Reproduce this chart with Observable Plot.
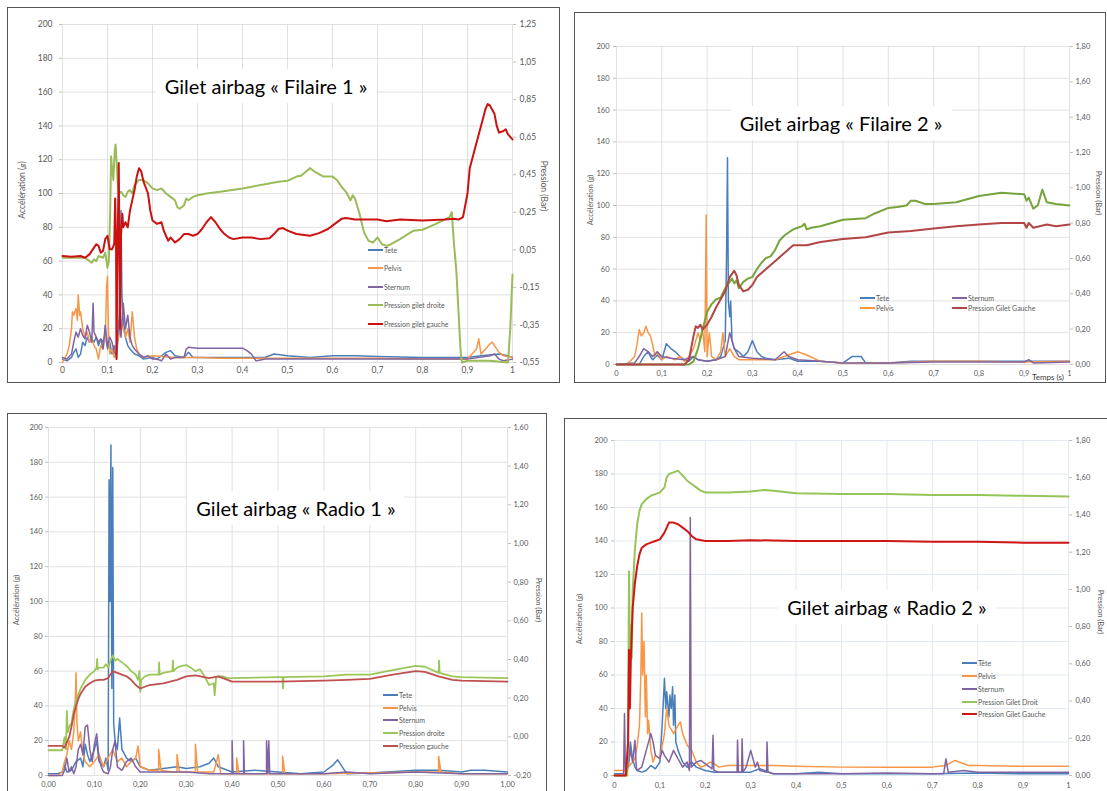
<!DOCTYPE html>
<html><head><meta charset="utf-8">
<script src="https://cdn.jsdelivr.net/npm/d3@7"></script>
<script src="https://cdn.jsdelivr.net/npm/@observablehq/plot@0.6"></script>
<style>
html,body{margin:0;padding:0;background:#fff;}
body{width:1107px;height:791px;overflow:hidden;position:relative;font-family:Lato,"Open Sans",sans-serif;}
.frame{position:absolute;border:1.5px solid #555;box-sizing:border-box;pointer-events:none;}
.title{position:absolute;background:#fff;padding:5px 9px;font-size:20px;color:#000;white-space:nowrap;transform:translate(-50%,-50%);}
.axt{position:absolute;font-size:7.5px;color:#595959;white-space:nowrap;}
.leg{position:absolute;display:flex;align-items:center;font-size:7px;color:#595959;white-space:nowrap;transform:translateY(-50%);}
.leg span.l{display:inline-block;width:15px;height:2px;margin-right:1px;}
</style></head><body>
<script>
// ---------- shared tick values / labels ----------
const xTicks = [0,0.1,0.2,0.3,0.4,0.5,0.6,0.7,0.8,0.9,1];
const xLabelsShort = ["0","0,1","0,2","0,3","0,4","0,5","0,6","0,7","0,8","0,9","1"];
const xLabelsLong = ["0,00","0,10","0,20","0,30","0,40","0,50","0,60","0,70","0,80","0,90","1,00"];
const yTicks = [0,20,40,60,80,100,120,140,160,180,200];
const pTicksF1 = [-0.55,-0.35,-0.15,0.05,0.25,0.45,0.65,0.85,1.05,1.25];
const pLabelsF1 = ["-0,55","-0,35","-0,15","0,05","0,25","0,45","0,65","0,85","1,05","1,25"];
const pTicks018 = [0,0.2,0.4,0.6,0.8,1.0,1.2,1.4,1.6,1.8];
const pLabels018 = ["0,00","0,20","0,40","0,60","0,80","1,00","1,20","1,40","1,60","1,80"];
const pTicksR1 = [-0.2,0,0.2,0.4,0.6,0.8,1.0,1.2,1.4,1.6];
const pLabelsR1 = ["-0,20","0,00","0,20","0,40","0,60","0,80","1,00","1,20","1,40","1,60"];

// ---------- Gilet airbag « Filaire 1 » : [temps (s), accélération (g)] / [temps, pression (Bar)] ----------
const f1Tete = [[0,2],[0.01,1],[0.02,3],[0.025,6],[0.03,8],[0.035,3],[0.04,5],[0.045,12],[0.05,10],[0.055,15],[0.06,12],[0.065,14],[0.07,12],[0.075,15],[0.08,10],[0.085,14],[0.09,12],[0.095,17],[0.1,8],[0.105,12],[0.11,5],[0.115,10],[0.12,3],[0.125,20],[0.128,50],[0.13,90],[0.132,40],[0.135,25],[0.14,15],[0.145,10],[0.15,8],[0.16,5],[0.17,4],[0.18,2],[0.2,3],[0.21,2],[0.22,4],[0.23,6],[0.24,7],[0.25,4],[0.27,3],[0.28,6],[0.29,3],[0.35,3],[0.4,3],[0.45,3],[0.47,5],[0.5,4],[0.55,3],[0.6,4],[0.65,4],[0.7,3.5],[0.8,3],[0.9,3],[0.93,4],[0.97,5],[0.99,4],[1,3]];
const f1Pelvis = [[0,0],[0.01,5],[0.015,10],[0.02,20],[0.022,30],[0.025,28],[0.03,32],[0.033,25],[0.035,40],[0.038,28],[0.04,30],[0.045,20],[0.05,15],[0.055,18],[0.06,12],[0.065,15],[0.07,10],[0.075,8],[0.08,2],[0.085,10],[0.09,8],[0.095,15],[0.098,45],[0.1,51],[0.102,20],[0.105,5],[0.11,8],[0.115,3],[0.12,10],[0.125,15],[0.13,25],[0.135,20],[0.14,15],[0.145,20],[0.15,12],[0.155,30],[0.16,15],[0.165,8],[0.17,5],[0.18,3],[0.2,4],[0.25,3],[0.3,3],[0.35,2.5],[0.4,2.5],[0.5,2.5],[0.6,2.5],[0.7,2.5],[0.8,2],[0.9,2],[0.91,5],[0.92,8],[0.925,14],[0.93,5],[0.94,8],[0.95,11],[0.955,12],[0.96,10],[0.97,6],[0.98,4],[1,3]];
const f1Sternum = [[0,3],[0.01,2],[0.02,5],[0.025,12],[0.03,18],[0.035,15],[0.04,20],[0.045,16],[0.05,14],[0.055,22],[0.06,18],[0.065,12],[0.068,35],[0.07,18],[0.075,15],[0.08,12],[0.085,14],[0.09,8],[0.095,22],[0.1,10],[0.105,15],[0.11,12],[0.115,6],[0.12,5],[0.125,25],[0.13,15],[0.135,35],[0.14,20],[0.145,28],[0.15,15],[0.155,10],[0.16,8],[0.17,5],[0.18,3],[0.19,4],[0.2,2],[0.21,2],[0.22,1],[0.23,5],[0.24,2],[0.25,3],[0.27,3],[0.275,8],[0.28,9],[0.3,8.5],[0.35,8.5],[0.4,8.5],[0.41,7],[0.42,5],[0.43,1],[0.44,1.5],[0.45,2],[0.5,2],[0.6,2],[0.7,2],[0.8,2],[0.9,2],[0.95,4],[0.96,5],[0.97,2],[0.98,1],[1,2]];
const f1Droite = [[0,0.008],[0.03,0.008],[0.05,0.008],[0.06,-0.01],[0.065,-0.019],[0.07,-0.001],[0.075,-0.01],[0.08,0.017],[0.09,0.008],[0.095,0.035],[0.1,-0.046],[0.103,-0.01],[0.106,0.26],[0.108,0.548],[0.11,0.485],[0.113,0.422],[0.116,0.575],[0.118,0.611],[0.12,0.53],[0.123,0.395],[0.126,0.35],[0.13,0.359],[0.135,0.341],[0.14,0.332],[0.145,0.359],[0.15,0.368],[0.155,0.35],[0.16,0.395],[0.17,0.422],[0.18,0.422],[0.19,0.404],[0.2,0.377],[0.21,0.368],[0.22,0.377],[0.23,0.35],[0.24,0.332],[0.25,0.314],[0.255,0.278],[0.26,0.269],[0.27,0.287],[0.275,0.323],[0.28,0.314],[0.29,0.332],[0.3,0.341],[0.32,0.35],[0.35,0.359],[0.4,0.377],[0.45,0.3995],[0.48,0.413],[0.5,0.4175],[0.52,0.44],[0.53,0.4445],[0.55,0.485],[0.56,0.467],[0.58,0.44],[0.6,0.44],[0.61,0.422],[0.62,0.386],[0.63,0.359],[0.64,0.314],[0.645,0.341],[0.65,0.323],[0.66,0.242],[0.67,0.143],[0.68,0.098],[0.69,0.089],[0.7,0.116],[0.71,0.08],[0.72,0.071],[0.73,0.08],[0.75,0.107],[0.78,0.152],[0.8,0.157],[0.83,0.188],[0.86,0.224],[0.865,0.251],[0.87,0.08],[0.875,-0.055],[0.88,-0.28],[0.885,-0.505],[0.888,-0.55],[0.9,-0.541],[0.95,-0.541],[0.99,-0.55],[0.995,-0.37],[1,-0.082]];
const f1Gauche = [[0,0.017],[0.02,0.013],[0.04,0.017],[0.05,0.008],[0.06,0.026],[0.07,0.062],[0.075,0.08],[0.08,0.071],[0.085,0.035],[0.09,0.044],[0.095,0.107],[0.1,0.125],[0.105,0.053],[0.11,0.053],[0.115,0.08],[0.117,0.323],[0.119,0.08],[0.12,-0.532],[0.122,-0.01],[0.125,0.512],[0.128,-0.37],[0.13,0.125],[0.133,0.242],[0.135,0.17],[0.14,0.197],[0.145,0.17],[0.15,0.26],[0.16,0.368],[0.165,0.44],[0.17,0.485],[0.175,0.467],[0.18,0.413],[0.19,0.35],[0.195,0.26],[0.2,0.206],[0.21,0.188],[0.22,0.197],[0.225,0.152],[0.23,0.125],[0.235,0.098],[0.24,0.116],[0.25,0.089],[0.26,0.107],[0.27,0.134],[0.28,0.134],[0.29,0.125],[0.3,0.134],[0.31,0.161],[0.32,0.197],[0.33,0.224],[0.34,0.197],[0.35,0.161],[0.36,0.134],[0.37,0.116],[0.38,0.107],[0.4,0.116],[0.42,0.116],[0.44,0.107],[0.46,0.112],[0.47,0.134],[0.48,0.161],[0.49,0.166],[0.5,0.152],[0.52,0.134],[0.55,0.125],[0.57,0.139],[0.59,0.161],[0.6,0.179],[0.62,0.215],[0.63,0.22],[0.65,0.211],[0.7,0.211],[0.72,0.202],[0.75,0.211],[0.8,0.206],[0.85,0.211],[0.87,0.215],[0.88,0.211],[0.89,0.224],[0.9,0.35],[0.905,0.485],[0.91,0.53],[0.92,0.62],[0.93,0.71],[0.94,0.8],[0.945,0.827],[0.95,0.818],[0.96,0.773],[0.965,0.71],[0.97,0.674],[0.98,0.683],[0.985,0.692],[0.99,0.665],[1,0.638]];

// ---------- Gilet airbag « Filaire 2 » ----------
const f2Tete = [[0,0],[0.05,0],[0.06,5],[0.07,8],[0.075,5],[0.08,3],[0.09,6],[0.1,3],[0.105,8],[0.11,13],[0.12,10],[0.13,8],[0.14,5],[0.15,3],[0.16,2],[0.17,5],[0.18,3],[0.2,2],[0.22,3],[0.23,5],[0.24,15],[0.243,70],[0.245,130],[0.247,40],[0.25,30],[0.252,40],[0.255,15],[0.26,10],[0.27,8],[0.28,5],[0.29,8],[0.3,15],[0.31,8],[0.32,5],[0.33,4],[0.35,3],[0.38,4],[0.4,2],[0.45,2],[0.5,1],[0.52,5],[0.54,5],[0.55,1],[0.6,1],[0.65,2],[0.7,2],[0.8,2],[0.9,2],[1,2]];
const f2Pelvis = [[0,0],[0.02,0],[0.03,2],[0.04,5],[0.045,12],[0.05,22],[0.055,18],[0.06,20],[0.065,24],[0.07,20],[0.075,18],[0.08,12],[0.085,5],[0.09,8],[0.1,3],[0.11,5],[0.12,4],[0.13,3],[0.14,5],[0.15,2],[0.16,5],[0.17,10],[0.18,20],[0.185,15],[0.19,22],[0.195,8],[0.198,94],[0.2,5],[0.205,20],[0.21,5],[0.22,3],[0.23,8],[0.235,20],[0.24,5],[0.25,10],[0.26,5],[0.27,3],[0.3,3],[0.35,3],[0.38,6],[0.4,8],[0.42,6],[0.45,2],[0.5,1],[0.55,1],[0.6,1],[0.7,2],[0.8,2],[0.9,1.5],[1,2]];
const f2Sternum = [[0,0],[0.04,1],[0.05,5],[0.06,10],[0.07,8],[0.08,5],[0.09,8],[0.1,5],[0.12,4],[0.15,3],[0.17,5],[0.18,3],[0.2,2],[0.22,3],[0.24,5],[0.25,20],[0.255,15],[0.26,10],[0.27,5],[0.3,4],[0.35,3],[0.37,8],[0.38,5],[0.4,3],[0.45,2],[0.5,1],[0.6,1],[0.7,1.5],[0.8,1.5],[0.9,1.5],[0.91,3],[0.92,1],[1,1.5]];
const f2Droite = [[0,0],[0.16,0],[0.17,0.018],[0.18,0.09],[0.19,0.198],[0.2,0.297],[0.21,0.342],[0.22,0.369],[0.23,0.378],[0.24,0.432],[0.25,0.468],[0.255,0.486],[0.26,0.459],[0.265,0.477],[0.27,0.432],[0.28,0.468],[0.29,0.486],[0.3,0.495],[0.31,0.54],[0.32,0.576],[0.33,0.603],[0.34,0.612],[0.35,0.648],[0.36,0.702],[0.37,0.729],[0.38,0.747],[0.39,0.765],[0.4,0.774],[0.41,0.783],[0.415,0.7965],[0.42,0.765],[0.43,0.774],[0.45,0.783],[0.5,0.819],[0.55,0.828],[0.57,0.855],[0.6,0.8865],[0.62,0.891],[0.64,0.9],[0.65,0.927],[0.66,0.927],[0.68,0.909],[0.7,0.909],[0.75,0.918],[0.8,0.954],[0.85,0.972],[0.9,0.963],[0.905,0.927],[0.91,0.945],[0.92,0.882],[0.93,0.9],[0.94,0.99],[0.95,0.918],[0.97,0.909],[1,0.9]];
const f2Gauche = [[0,0],[0.15,0],[0.16,0.027],[0.17,0.162],[0.175,0.216],[0.18,0.207],[0.185,0.225],[0.19,0.198],[0.2,0.225],[0.21,0.27],[0.22,0.324],[0.23,0.369],[0.24,0.414],[0.25,0.495],[0.26,0.531],[0.265,0.504],[0.27,0.45],[0.28,0.414],[0.29,0.423],[0.3,0.45],[0.31,0.495],[0.33,0.54],[0.35,0.585],[0.37,0.63],[0.39,0.675],[0.42,0.675],[0.45,0.693],[0.5,0.711],[0.55,0.72],[0.6,0.747],[0.65,0.756],[0.7,0.7695],[0.75,0.783],[0.8,0.792],[0.85,0.801],[0.9,0.801],[0.905,0.774],[0.91,0.801],[0.92,0.774],[0.95,0.792],[0.97,0.783],[1,0.792]];

// ---------- Gilet airbag « Radio 1 » ----------
const r1Tete = [[0,1],[0.02,1],[0.03,2],[0.035,6],[0.04,2],[0.05,3],[0.06,8],[0.07,10],[0.075,5],[0.08,18],[0.085,12],[0.09,8],[0.1,15],[0.105,20],[0.11,8],[0.12,5],[0.125,10],[0.13,3],[0.132,170],[0.134,100],[0.136,190],[0.138,50],[0.14,177],[0.142,30],[0.145,20],[0.15,15],[0.155,33],[0.16,15],[0.17,10],[0.18,8],[0.19,10],[0.2,5],[0.22,3],[0.25,4],[0.28,5],[0.3,4],[0.33,5],[0.35,7],[0.36,10],[0.37,5],[0.4,2],[0.45,3],[0.5,2],[0.55,1],[0.6,2],[0.62,6],[0.63,9],[0.64,5],[0.65,1],[0.7,1.5],[0.8,3],[0.85,3],[0.9,2],[0.92,3],[0.95,3],[1,2]];
const r1Pelvis = [[0,0],[0.02,0],[0.03,2],[0.035,8],[0.04,12],[0.045,20],[0.05,15],[0.055,25],[0.058,40],[0.06,59],[0.062,30],[0.065,20],[0.07,25],[0.075,12],[0.08,8],[0.09,5],[0.1,8],[0.11,12],[0.12,5],[0.13,10],[0.14,15],[0.15,8],[0.16,10],[0.17,5],[0.18,8],[0.19,10],[0.195,17],[0.2,5],[0.22,3],[0.24,3],[0.24,15],[0.245,3],[0.27,2],[0.28,2],[0.28,12],[0.285,2],[0.32,2],[0.32,18],[0.325,2],[0.36,2],[0.37,12],[0.375,1],[0.4,1],[0.41,1],[0.41,10],[0.415,1],[0.5,1],[0.51,1],[0.51,11],[0.515,1],[0.6,1],[0.8,2],[0.85,2],[0.85,11],[0.855,2],[0.9,1],[1,1]];
const r1Sternum = [[0,0],[0.03,0],[0.035,3],[0.04,10],[0.045,2],[0.05,5],[0.055,1],[0.06,5],[0.065,15],[0.07,18],[0.075,12],[0.08,28],[0.085,29],[0.09,15],[0.095,8],[0.1,18],[0.105,24],[0.11,10],[0.115,5],[0.12,2],[0.13,1],[0.135,5],[0.14,15],[0.145,20],[0.15,5],[0.16,3],[0.17,8],[0.18,10],[0.19,5],[0.2,2],[0.25,2],[0.3,2],[0.35,1],[0.4,1],[0.4,20],[0.402,1],[0.425,1],[0.425,20],[0.427,1],[0.475,1],[0.475,20],[0.478,1],[0.48,20],[0.482,1],[0.5,1],[0.6,1],[0.65,2],[0.7,1],[0.8,2],[0.9,1],[1,1]];
const r1Droite = [[0,-0.0695],[0.03,-0.0695],[0.035,-0.002],[0.038,-0.065],[0.04,0.133],[0.042,0.025],[0.045,0.052],[0.05,0.07],[0.055,0.142],[0.06,0.187],[0.07,0.25],[0.08,0.295],[0.09,0.322],[0.1,0.34],[0.105,0.358],[0.106,0.403],[0.107,0.349],[0.11,0.358],[0.12,0.358],[0.125,0.376],[0.13,0.358],[0.135,0.394],[0.14,0.421],[0.145,0.394],[0.15,0.403],[0.16,0.385],[0.17,0.367],[0.18,0.34],[0.19,0.322],[0.195,0.295],[0.198,0.34],[0.2,0.232],[0.202,0.295],[0.21,0.313],[0.22,0.322],[0.24,0.322],[0.241,0.385],[0.242,0.322],[0.25,0.331],[0.27,0.34],[0.271,0.394],[0.272,0.34],[0.28,0.358],[0.29,0.367],[0.3,0.3715],[0.31,0.358],[0.32,0.34],[0.33,0.349],[0.34,0.313],[0.35,0.268],[0.36,0.277],[0.362,0.214],[0.365,0.304],[0.37,0.313],[0.38,0.313],[0.39,0.304],[0.4,0.304],[0.5,0.3085],[0.51,0.3085],[0.511,0.25],[0.512,0.3085],[0.6,0.313],[0.65,0.322],[0.7,0.322],[0.75,0.3445],[0.8,0.367],[0.82,0.3625],[0.85,0.331],[0.851,0.394],[0.852,0.331],[0.88,0.313],[0.9,0.3085],[1,0.304]];
const r1Gauche = [[0,-0.047],[0.03,-0.047],[0.035,-0.056],[0.04,-0.029],[0.045,-0.002],[0.05,0.052],[0.055,0.115],[0.06,0.16],[0.065,0.196],[0.07,0.223],[0.08,0.259],[0.09,0.277],[0.1,0.2905],[0.11,0.295],[0.12,0.295],[0.13,0.304],[0.14,0.34],[0.15,0.331],[0.17,0.313],[0.18,0.295],[0.19,0.268],[0.2,0.25],[0.22,0.268],[0.25,0.277],[0.28,0.295],[0.3,0.313],[0.32,0.3175],[0.35,0.304],[0.37,0.313],[0.38,0.304],[0.4,0.286],[0.5,0.286],[0.6,0.2905],[0.65,0.295],[0.7,0.2995],[0.75,0.322],[0.8,0.34],[0.82,0.3355],[0.85,0.313],[0.88,0.295],[0.9,0.2905],[1,0.286]];

// ---------- Gilet airbag « Radio 2 » ----------
const r2Tete = [[0,1],[0.02,1],[0.025,0],[0.03,5],[0.035,20],[0.04,10],[0.045,5],[0.05,3],[0.06,2],[0.07,3],[0.08,6],[0.09,4],[0.1,8],[0.105,30],[0.11,58],[0.113,40],[0.115,50],[0.12,35],[0.122,48],[0.125,40],[0.128,53],[0.13,30],[0.133,48],[0.135,20],[0.14,15],[0.15,8],[0.16,5],[0.17,8],[0.18,5],[0.2,3],[0.22,2],[0.25,2],[0.3,2],[0.32,4],[0.35,1],[0.4,1],[0.45,2],[0.5,1],[0.6,1],[0.7,1],[0.8,1.5],[0.9,1],[1,1]];
const r2Pelvis = [[0,3],[0.02,3],[0.025,2],[0.03,5],[0.04,8],[0.045,10],[0.05,18],[0.055,30],[0.058,60],[0.06,97],[0.062,60],[0.065,80],[0.068,35],[0.07,60],[0.073,25],[0.075,33],[0.08,15],[0.085,8],[0.09,12],[0.1,10],[0.11,25],[0.115,40],[0.12,30],[0.13,25],[0.14,30],[0.145,32],[0.15,25],[0.16,18],[0.17,15],[0.18,8],[0.19,5],[0.2,6],[0.21,8],[0.22,7],[0.23,5],[0.25,6],[0.3,6],[0.35,6],[0.4,5.5],[0.5,5],[0.6,5],[0.7,5],[0.73,6],[0.75,9],[0.78,6],[0.8,6],[0.9,5.5],[1,5.5]];
const r2Sternum = [[0,0],[0.02,0],[0.022,37],[0.024,3],[0.03,5],[0.035,15],[0.04,8],[0.045,21],[0.048,5],[0.05,3],[0.06,5],[0.07,15],[0.08,25],[0.085,20],[0.09,12],[0.1,10],[0.105,15],[0.11,12],[0.12,8],[0.13,15],[0.14,10],[0.15,5],[0.16,8],[0.165,3],[0.167,154],[0.169,5],[0.18,8],[0.19,9],[0.2,7],[0.21,5],[0.215,4],[0.217,24],[0.219,3],[0.23,2],[0.27,2],[0.271,21],[0.273,2],[0.28,2],[0.281,22],[0.283,2],[0.29,5],[0.3,15],[0.305,10],[0.31,5],[0.315,8],[0.32,3],[0.335,2],[0.336,20],[0.338,2],[0.35,1],[0.4,1],[0.5,1],[0.6,1.5],[0.7,1],[0.725,1],[0.73,10],[0.735,2],[0.77,3],[0.8,2],[0.9,2],[1,2]];
const r2Droit = [[0,0],[0.028,0],[0.03,0.27],[0.032,1.098],[0.034,0.54],[0.036,0.81],[0.038,0.63],[0.04,0.99],[0.045,1.215],[0.05,1.35],[0.055,1.422],[0.06,1.458],[0.07,1.485],[0.08,1.503],[0.09,1.512],[0.1,1.521],[0.11,1.548],[0.115,1.602],[0.12,1.62],[0.13,1.629],[0.14,1.638],[0.15,1.611],[0.16,1.584],[0.17,1.566],[0.18,1.548],[0.19,1.53],[0.2,1.521],[0.25,1.521],[0.3,1.5255],[0.33,1.5345],[0.35,1.53],[0.4,1.5165],[0.5,1.512],[0.6,1.512],[0.7,1.5075],[0.8,1.5075],[0.9,1.503],[1,1.4985]];
const r2Gauche = [[0,0],[0.025,0],[0.03,0.18],[0.032,0.675],[0.034,0.36],[0.036,0.63],[0.04,0.9],[0.045,1.035],[0.05,1.125],[0.055,1.188],[0.06,1.224],[0.07,1.242],[0.08,1.251],[0.09,1.26],[0.1,1.269],[0.11,1.305],[0.12,1.359],[0.13,1.359],[0.14,1.35],[0.15,1.332],[0.16,1.314],[0.17,1.287],[0.18,1.269],[0.2,1.26],[0.25,1.26],[0.3,1.2645],[0.4,1.26],[0.5,1.26],[0.6,1.26],[0.7,1.2555],[0.8,1.2555],[0.9,1.251],[1,1.251]];

// ---------- colours ----------
const cTete = "#4a7ebb", cPelvis = "#f79646", cSternum = "#8064a2";

const panels = [
  {box:[7,7,553,376], plot:[62,512,24,362], pMin:-0.55, pMax:1.25, pTicks:pTicksF1, pLabels:pLabelsF1, xLabels:xLabelsShort,
   grid:"#d9d9d9", accel:[f1Tete,f1Pelvis,f1Sternum], press:[[f1Droite,"#9bbb59"],[f1Gauche,"#cc1111"]], pw:2, lx:-10, rx:7, bx:10, fs:8.5,
   title:"Gilet airbag « Filaire 1 »", tpos:[266,86],
   yTitle:[22,190], pTitle:[544,186], tfs:8.5,
   legend:[[368,250,"Tete",cTete],[368,268,"Pelvis",cPelvis],[368,287,"Sternum",cSternum],[368,305,"Pression gilet droite","#9bbb59"],[368,324,"Pression gilet gauche","#cc1111"]]},
  {box:[574,12,532,371], plot:[616,1069,46,364], pMin:0, pMax:1.8, pTicks:pTicks018, pLabels:pLabels018, xLabels:xLabelsShort,
   grid:"#d9d9d9", accel:[f2Tete,f2Pelvis,f2Sternum], press:[[f2Droite,"#77a33c"],[f2Gauche,"#b24646"]], pw:2, lx:-7, rx:6, bx:11, fs:7.5,
   title:"Gilet airbag « Filaire 2 »", tpos:[841,123],
   yTitle:[590,200], pTitle:[1098,193], tfs:7.5,
   legend:[[860,298,"Tete",cTete],[860,308,"Pelvis",cPelvis],[952,298,"Sternum",cSternum],[952,308,"Pression Gilet Gauche","#b24646"]]},
  {box:[7,413,540,395], plot:[48,507,427,775], pMin:-0.2, pMax:1.6, pTicks:pTicksR1, pLabels:pLabelsR1, xLabels:xLabelsLong,
   grid:"#d9d9d9", accel:[r1Tete,r1Pelvis,r1Sternum], press:[[r1Droite,"#9bc65a"],[r1Gauche,"#c0504d"]], pw:1.8, lx:-6, rx:6, bx:11, fs:7.5,
   title:"Gilet airbag « Radio 1 »", tpos:[296,508],
   yTitle:[16,600], pTitle:[538,600], tfs:7.5,
   legend:[[383,695,"Tete",cTete],[383,708,"Pelvis",cPelvis],[383,720,"Sternum",cSternum],[383,733,"Pression droite","#9bc65a"],[383,746,"Pression gauche","#c0504d"]]},
  {box:[564,418,545,385], plot:[614,1068,440,775], pMin:0, pMax:1.8, pTicks:pTicks018, pLabels:pLabels018, xLabels:xLabelsShort,
   grid:"#dae3ec", accel:[r2Tete,r2Pelvis,r2Sternum], press:[[r2Droit,"#96c459"],[r2Gauche,"#d01515"]], pw:2, lx:-7, rx:7, bx:12, fs:7.5,
   title:"Gilet airbag « Radio 2 »", tpos:[887,607],
   yTitle:[579,619], pTitle:[1100,612], tfs:7.5,
   legend:[[962,663,"Tête",cTete],[962,676,"Pelvis",cPelvis],[962,689,"Sternum",cSternum],[962,702,"Pression Gilet Droit","#96c459"],[962,714,"Pression Gilet Gauche","#d01515"]]}
];

function el(cls, css, html) {
  const d = document.createElement("div");
  d.className = cls;
  Object.assign(d.style, css);
  if (html !== undefined) d.innerHTML = html;
  document.body.appendChild(d);
  return d;
}

panels.forEach((P) => {
  const [bx, by, bw, bh] = P.box;
  const [x0, x1, yTop, y0] = P.plot;
  const toG = p => (p - P.pMin) / (P.pMax - P.pMin) * 200;
  const fs = P.fs, tc = "#595959";
  const marks = [
    Plot.gridX(xTicks, {stroke: P.grid, strokeOpacity: 1, strokeWidth: 0.8}),
    Plot.gridY(yTicks, {stroke: P.grid, strokeOpacity: 1, strokeWidth: 0.8}),
    Plot.axisY(yTicks, {anchor: "left", tickSize: 3, stroke: "#bfbfbf", tickFormat: () => ""}),
    Plot.axisY(P.pTicks.map(toG), {anchor: "right", tickSize: 3, stroke: "#bfbfbf", tickFormat: () => ""}),
    Plot.text(yTicks, {y: d => d, text: d => String(d), frameAnchor: "left", dx: P.lx, textAnchor: "end", fill: tc, fontSize: fs}),
    Plot.text(P.pTicks, {y: p => toG(p), text: (p, i) => P.pLabels[i], frameAnchor: "right", dx: P.rx, textAnchor: "start", fill: tc, fontSize: fs}),
    Plot.text(xTicks, {x: d => d, text: (d, i) => P.xLabels[i], frameAnchor: "bottom", dy: P.bx, fill: tc, fontSize: fs}),
    ...P.accel.map((s, j) => Plot.line(s, {x: d => d[0], y: d => d[1], stroke: [cTete, cPelvis, cSternum][j], strokeWidth: 1.5})),
    ...P.press.map(([s, c]) => Plot.line(s, {x: d => d[0], y: d => toG(d[1]), stroke: c, strokeWidth: P.pw}))
  ];
  const svg = Plot.plot({
    width: bw, height: bh,
    marginLeft: x0 - bx, marginRight: bx + bw - x1, marginTop: yTop - by, marginBottom: by + bh - y0,
    x: {domain: [0, 1], axis: null},
    y: {domain: [0, 200], axis: null},
    style: {background: "transparent", fontFamily: "Lato, 'Open Sans', sans-serif", overflow: "visible"},
    marks
  });
  svg.style.position = "absolute";
  svg.style.left = bx + "px";
  svg.style.top = by + "px";
  document.body.appendChild(svg);

  el("title", {left: P.tpos[0] + "px", top: P.tpos[1] + "px"}, P.title);
  el("axt", {left: P.yTitle[0] + "px", top: P.yTitle[1] + "px", fontSize: P.tfs + "px", transform: "translate(-50%,-50%) rotate(-90deg)"}, "Accélération (<i>g</i>)");
  el("axt", {left: P.pTitle[0] + "px", top: P.pTitle[1] + "px", fontSize: P.tfs + "px", transform: "translate(-50%,-50%) rotate(90deg)"}, "Pression (Bar)");
  P.legend.forEach(([lx, ly, name, c]) => {
    el("leg", {left: lx + "px", top: ly + "px"}, `<span class="l" style="background:${c}"></span>${name}`);
  });
  el("frame", {left: bx + "px", top: by + "px", width: bw + "px", height: bh + "px"});
});
el("axt", {left: "1032px", top: "372px", fontSize: "8px", color: "#404040"}, "Temps (s)");
</script>
</body></html>
